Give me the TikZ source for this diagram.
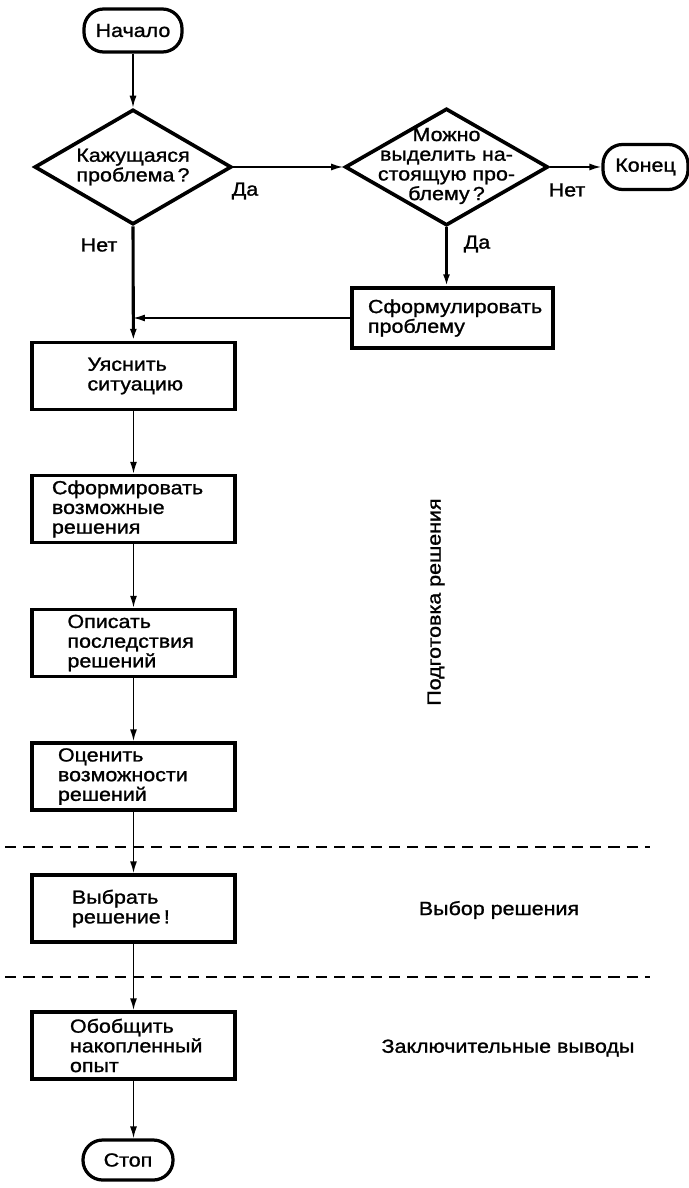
\documentclass[tikz,border=0pt]{standalone}
\usepackage{fontspec}
\setmainfont{Liberation Sans}[FakeStretch=1.13,FakeBold=1.2]
\usetikzlibrary{shapes.geometric,arrows.meta}
\begin{document}
\begin{tikzpicture}[x=0.025cm,y=-0.025cm,
  font=\fontsize{13.5}{14}\selectfont,
  block/.style={draw,line width=2.5pt,minimum width=5.075cm,minimum height=1.675cm,align=left,inner sep=0pt},
  lead/.style={text width=#1},
  term/.style={draw,line width=2.3pt,rounded corners=14pt,inner sep=0pt},
  decide/.style={draw,diamond,line width=2.6pt,inner sep=0pt,aspect=1.7,align=center},
  flow/.style={line width=1.2pt,-{Latex[length=8.5pt,width=5pt]}},
  mainflow/.style={flow,line width=2.2pt},
  sep/.style={line width=1.4pt,dash pattern=on 8pt off 5pt},
  lbl/.style={inner sep=0pt}]
\useasboundingbox (0,0) rectangle (689,1188);
% upper part: the two questions
\node[term,minimum width=2.45cm,minimum height=1.075cm] (start) at (133,30.5) {Начало};
\node[decide,minimum width=4.925cm,minimum height=2.875cm] (d1) at (133,167) {Кажущаяся\\проблема\,?};
\node[decide,minimum width=5.075cm,minimum height=2.925cm] (d2) at (446.5,167) {};
\node[align=center,inner sep=0pt] (d2txt) at (446.5,166) {Можно\\выделить на-\\стоящую про-\\блему\,?};
\node[term,minimum width=2.125cm,minimum height=1.125cm] (end) at (645.5,167) {Конец};
\node[block,lead=4.225cm,minimum width=5.025cm,minimum height=1.5cm] (form) at (452.5,318) {Сформулировать\\проблему};
% main column
\node[block,lead=2.3cm] (sit) at (133.5,376) {Уяснить\\ситуацию};
\node[block,lead=4.075cm] (gen) at (133.5,509) {Сформировать\\возможные\\решения};
\node[block,lead=3.3cm] (desc) at (133.5,643) {Описать\\последствия\\решений};
\node[block,lead=3.775cm] (eval) at (133.5,776.5) {Оценить\\возможности\\решений};
\node[block,lead=3.075cm] (pick) at (133.5,908.5) {Выбрать\\решение\,!};
\node[block,lead=3.175cm] (sum) at (133.5,1045.5) {Обобщить\\накопленный\\опыт};
\node[term,minimum width=2.25cm,minimum height=1cm] (stop) at (128,1160) {Стоп};
% connectors
\draw[flow] (start) -- (d1);
\draw[flow] (d1) -- (d2);
\draw[flow] (d2) -- (end);
\draw[mainflow] (d2.south) -- (d2.south |- form.north);
\draw[flow] (form.west) -- (form.west -| d1.south);
\draw[mainflow] (d1.south) -- (sit);
\foreach \a/\b in {sit/gen,gen/desc,desc/eval,eval/pick,pick/sum}
{
\draw[flow] (\a) -- (\b);
}
\draw[flow] (sum) -- (sum.south |- stop.north);
\node[lbl] (yes1) at (245,191) {Да};
\node[lbl] (no1) at (99,245) {Нет};
\node[lbl] (yes2) at (477,244) {Да};
\node[lbl] (no2) at (567,190) {Нет};
% phases
\draw[sep] (5,847) -- (650,847);
\draw[sep] (5,977) -- (650,977);
\node[rotate=90] (prep) at (436,602) {Подготовка решения};
\node (choice) at (499,910) {Выбор решения};
\node (final) at (508,1048) {Заключительные выводы};
\end{tikzpicture}
\end{document}
